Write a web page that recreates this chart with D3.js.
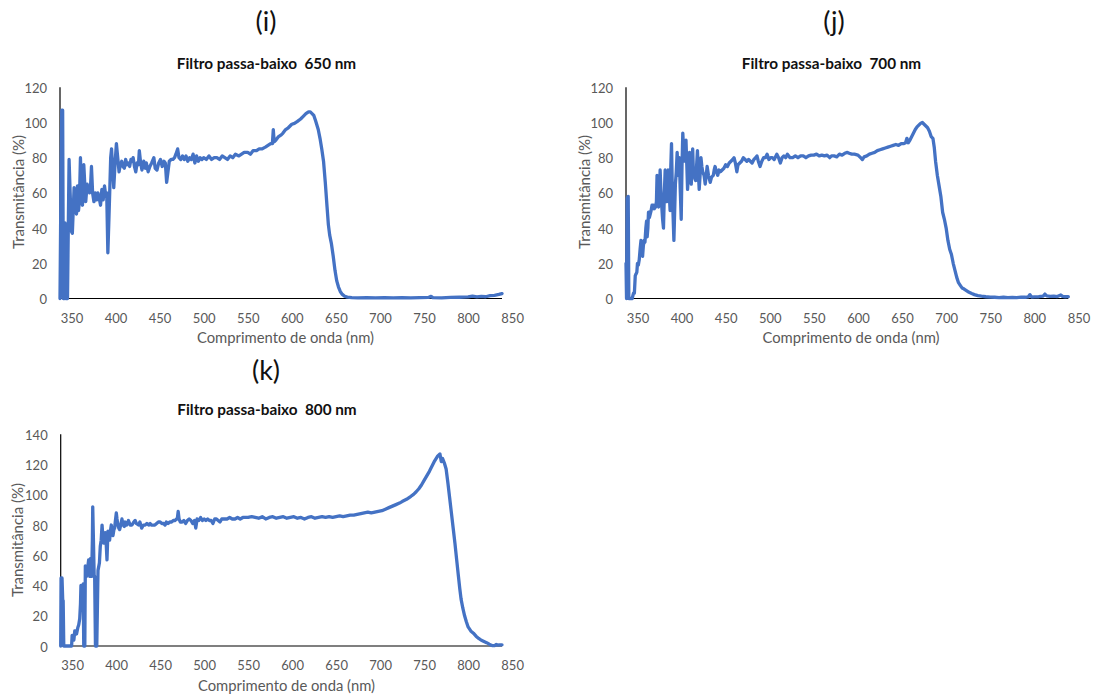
<!DOCTYPE html>
<html>
<head>
<meta charset="utf-8">
<script src="https://cdn.jsdelivr.net/npm/d3@7"></script>
<style>
  html, body { margin: 0; padding: 0; background: #ffffff; }
  svg { display: block; font-family: Lato, "Open Sans", sans-serif; }
</style>
</head>
<body>
<svg id="fig" width="1096" height="697"></svg>
<script>
// Wavelength ticks shared by the three spectra
const xTicks = [350, 400, 450, 500, 550, 600, 650, 700, 750, 800, 850];
const yTicks120 = [0, 20, 40, 60, 80, 100, 120];
const yTicks140 = [0, 20, 40, 60, 80, 100, 120, 140];

const panelLabels = ["(i)", "(j)", "(k)"];
const titles = ["Filtro passa-baixo  650 nm", "Filtro passa-baixo  700 nm", "Filtro passa-baixo  800 nm"];
const xTitle = "Comprimento de onda (nm)";
const yTitle = "Transmitância (%)";

// Low-pass filter 650 nm: wavelength (nm) and transmittance (%)
const wl650 = [337,338,339,340,340.8,342,342.7,343.5,345.5,347.3,348.5,350,351,352,353,354,355.7,356.8,358,359,360.2,361.5,362.5,364,365,366.2,367.8,369,370.5,371.5,372.7,374,375.5,377,378.5,380,381.5,383,384.5,386,387.5,389,390,391.3,392.5,393.5,394.5,395.5,396.5,398,399.5,401,402.5,404,405.5,407,408.5,410,411.5,413,414.5,416,417.5,419,420,421.5,423,424.5,426,427,428.5,430,432,434,435,437,439,441,443.5,445,447,449,451,453,455,456.5,458,459.5,461,463,465,467,468.5,470.5,472,474,476,478,480,482,484,486,488,490,492,494,496,498,500,503,506,509,512,515,518,521,524,527,530,533,536,540,543,546,550,553,556,560,563,566,570,573,576,578,579,580,582,585,588,590,593,596,600,603,606,610,613,616,619,621,623,625,627,630,632,634,636,638,640,641.5,643,645,647,649,651,653,655,657,660,663,668,675,685,695,705,715,725,735,745,755,758,760,770,780,790,800,805,810,815,820,825,830,835,838.5];
const t650 = [0,60,107,107,0,0,43,0,0,79,60,38,37,50,63,55,48,64,50,55,80,58,53,76,66,55,65,63,60,62,75,60,55,60,56,60,57,53,62,56,64,58,60,26,45,62,80,85,76,63,77,88,80,72,76,78,75,74,79,76,77,75,79,78,80,75,72,77,76,84,77,73,78,74,77,72,75,77,80,74,73,77,79,75,78,77,66,72,78,79,79,80,82,85,80,79,81,79,81,78,80,79,82,77,81,78,80,79,80,79,81,79,80,80,79,81,80,79,81,80,82,81,82,83,83,82,84,84,85,85,86,87,88,88,96,89,90,92,93,94,96,97,99,99.5,100.5,102,103.5,105,106,106,105,104,101,96,91,85,78,66,52,42,36,31,24,16,10,6.5,4,2.5,1.3,0.8,0.5,0.4,0.5,0.4,0.5,0.3,0.5,0.4,0.5,0.6,1.2,0.5,0.4,0.6,0.7,0.9,1.3,0.9,1.2,1.0,1.6,1.8,2.3,2.8];

// Low-pass filter 700 nm
const wl700 = [337,337.6,338.3,339.5,340.2,344,345.5,346.5,347.5,348.5,349.3,350,351,352,353,354,355,355.8,356.7,357.6,358.5,359.5,360.3,361,361.8,362.5,363.5,364.5,365.5,366.5,368,369,370.5,371.5,372.2,373.2,374,374.8,375.7,376.5,377.6,378.5,379.5,380.5,381.4,382.3,383.2,384.2,385,386,387,387.8,388.6,389.4,390.2,391.3,392.2,393,394,395,396.2,397.4,398.5,399.6,400.5,401.4,402.3,403.3,404.2,405,406,406.8,408,409,410,411,411.8,412.6,413.4,414.3,415.2,416,417,418,419,420,421,422,423,424,425.5,426.8,428,429,430.5,432.5,434,436,437,438,439.5,441,442.5,444,446,448,450,452,454,456,458,459.5,461,462.7,464,466,468,470,472,474,476,478,480,482,484,485.5,487,489,491,493,495,497,499,501,503,505,507,508,510,512,514,516,518,520,523,526,529,532,535,538,541,544,547,550,553,556,559,562,565,568,570,573,576,579,582,585,588,590,593,596,600,603,605,607,610,613,616,619,622,625,628,631,634,637,640,643,646,649,652,654,655.5,657,659,661,663,665,667,669,671,673,675,677,679,681,683,685,686.5,688,690,692,694,696,698,700,702,704,706,708,710,712,714,716,718,720,723,726,729,732,736,740,745,750,755,760,765,770,775,780,785,790,793,795,797,800,805,810,812,814,818,822,826,830,832,835,838.5];
const t700 = [20,0,57,58,0,0,3,3,13,14,15,20,19,22,28,33,26,24,30,33,32,40,44,35,40,49,46,48,50,53,53,51,52,55,70,60,52,58,73,62,52,45,40,60,73,65,55,70,73,60,50,75,88,65,50,33,50,65,72,83,70,80,62,45,75,94,85,78,85,90,75,62,72,83,72,65,74,85,72,70,68,67,75,84,72,62,70,80,75,72,70,65,70,75,70,66,69,70,73,75,72,70,73,72,73,74,76,75,77,78,79,80,77,72,76,77,78,80,79,78,79,78,77,79,80,81,78,75,78,80,80,82,79,80,80,79,81,82,80,77,80,81,80,82,80,80,81,80,81,81,80,81,81.5,81.5,82,81,81.5,81,81.5,80,81,81,80.5,82,81.5,82.5,83,82.5,82,82,81.5,80,79,80.5,81,82,82.5,83,84,84.5,85,85.5,86,86.5,87,87.5,87,88,88,88.5,91,88.5,90,92,94,96,97.5,98.5,99.5,100,99,98,97,95,92,91,86,78,70,64,58,49,45,40,33,28,25,20,16,12,9,7.5,6,5.5,4.5,3.5,2.8,2.2,1.6,1.3,1.0,0.8,0.7,0.5,0.7,0.5,0.6,0.5,0.8,0.7,0.9,2.2,0.8,0.9,1.0,1.4,2.5,1.5,1.2,1.4,1.1,2.0,1.2,1.0,1.1];

// Low-pass filter 800 nm
const wl800 = [337,337.4,338.5,339.3,339.8,340.5,349.4,350,351,352,353,354,355,356.4,357.5,358.6,359.5,360,361.3,362.5,363.2,364.4,365,366.2,367.7,368.8,370,371,372.2,373,373.4,374.2,375,375.6,376.5,378,379.4,381,382,383,384,385,385.8,386.8,387.7,388.5,389.6,390.7,391.6,392.6,393.5,394.5,395.5,396.4,397.5,398.3,399,400.2,401,402,403,404,405.2,406.6,408,409.3,410.3,412,413,414,416,418,420,421.6,423,425.4,427,429,431,433,435,437,438.6,440,442,444,446,448,450,452,454,455.6,457,459,461,463,465,467,468.5,469.5,470.5,471.5,473,475,477,479,481,483,485,487,489,490.5,492,494,496,498,500,502,504,506,508,510,512,514,516,518,520,523,526,529,532,535,538,541,544,547,550,
  554,558,562,566,570,574,578,582,586,590,594,598,602,606,610,614,618,622,626,630,634,638,642,646,650,654,658,662,666,670,674,678,682,686,690,694,698,702,706,710,714,718,722,725,730,735,738,741,744,747,750,753,756,759,762,765,768,
  769.5,771,773,775,777,779,781,783,785,787,789,790.5,792,794,796,798,800,803,806,809,812,815,818,821,824,826,828,830,832,834,836,838.5];
const t800 = [0,45,45,30,30,0,0,7,5,4,10,9,8,12,14,18,28,40,28,41,0,0,53,46,52,57,46,58,46,70,92,70,47,46,0,0,50,55,66,70,80,72,68,70,75,70,57,76,72,70,76,80,76,73,77,78,82,88,84,80,78,77,80,84,80,79,82,80,81,83,80,80,82,83,81,80,82,78,80,80,81,80,81,80,80,80,81,82,82,81,81,80,82,81,82,82,83,83,84,84,89,84,82,82,83,81,83,84,83,81,83,78,84,83,85,83,84,83,84,83,83,81,84,84,83,82,84,84,84,85,84,84,85,84,85,85,85,
  85.5,85,84.5,85.5,84,85,85.5,84.5,85,85.5,84.5,85,85.5,84.5,85,84,85,85.5,84.5,85,85.5,85,85.5,85,85.5,86,85.5,86,86.5,86.5,87,87.5,88,88.5,88,88.5,89,89.5,90.5,91.5,92.5,93.5,94.5,95.5,97,99,100.3,102,104,106.5,109.5,112.5,115.5,119,122.5,125.3,127,
  122,124,121,117,108,98,88,78,68,57,46,38,31,25,20,16,12.6,10,8.5,6.5,5,3.8,3,2.2,1.2,0.6,0.2,0.3,1.0,0.6,0.8,0.8];

const svg = d3.select("#fig");
const lineColor = "#4472C4";
const textColor = "#595959";

function drawPanel(p) {
  const g = svg.append("g");
  const x = d3.scaleLinear().domain([337, 838.5]).range([p.left, p.right]);
  const y = d3.scaleLinear().domain([0, d3.max(p.yTicks)]).range([p.bottom, p.top]);

  // panel letter and chart title
  g.append("text").attr("x", p.labelX).attr("y", p.labelY)
    .attr("text-anchor", "middle").attr("dominant-baseline", "central")
    .attr("font-size", 27).attr("fill", "#111").text(p.label);
  g.append("text").attr("x", p.titleX).attr("y", p.titleY)
    .attr("text-anchor", "middle").attr("dominant-baseline", "central")
    .attr("font-size", 15.3).attr("font-weight", "bold").attr("fill", "#111")
    .style("white-space", "pre").text(p.title);

  // x axis (labels only, black baseline)
  const xa = g.append("g").attr("transform", `translate(0,${p.bottom})`)
    .call(d3.axisBottom(x).tickValues(xTicks).tickSize(0).tickPadding(0).tickFormat(d3.format("d")));
  xa.select(".domain").remove();
  xa.selectAll("text").attr("y", 19).attr("dy", null).attr("dominant-baseline", "central")
    .attr("font-size", 13).attr("font-family", "Lato, sans-serif").attr("fill", textColor);

  // y axis labels
  const ya = g.append("g").attr("transform", `translate(${p.left},0)`)
    .call(d3.axisLeft(y).tickValues(p.yTicks).tickSize(0).tickPadding(13).tickFormat(d3.format("d")));
  ya.select(".domain").remove();
  ya.selectAll("text").attr("dy", null).attr("dominant-baseline", "central")
    .attr("font-size", 13).attr("font-family", "Lato, sans-serif").attr("fill", textColor);

  // axis lines
  g.append("line").attr("x1", p.left).attr("x2", p.left).attr("y1", p.top).attr("y2", p.bottom)
    .attr("stroke", "#000").attr("stroke-width", 1.2);
  g.append("line").attr("x1", p.left).attr("x2", p.right).attr("y1", p.bottom).attr("y2", p.bottom)
    .attr("stroke", "#000").attr("stroke-width", 1.2);

  // axis titles
  g.append("text").attr("x", p.xTitleX).attr("y", p.bottom + 38.5)
    .attr("text-anchor", "middle").attr("dominant-baseline", "central")
    .attr("font-size", 14.8).attr("fill", textColor).text(xTitle);
  g.append("text").attr("transform", `translate(${p.yTitleX},${p.yTitleY}) rotate(-90)`)
    .attr("text-anchor", "middle").attr("dominant-baseline", "central")
    .attr("font-size", 15).attr("fill", textColor).text(yTitle);

  // transmittance spectrum
  const pts = p.wl.map((w, i) => [w, p.t[i]]);
  g.append("path").datum(pts)
    .attr("d", d3.line().x(d => x(d[0])).y(d => y(d[1])))
    .attr("fill", "none").attr("stroke", lineColor).attr("stroke-width", 3.3)
    .attr("stroke-linejoin", "round").attr("stroke-linecap", "round");
}

drawPanel({ label: panelLabels[0], title: titles[0], wl: wl650, t: t650, yTicks: yTicks120,
  left: 60, right: 502, top: 87.3, bottom: 298.5,
  labelX: 266, labelY: 20, titleX: 266.5, titleY: 63, xTitleX: 285.5, yTitleX: 18, yTitleY: 192 });

drawPanel({ label: panelLabels[1], title: titles[1], wl: wl700, t: t700, yTicks: yTicks120,
  left: 626, right: 1068.3, top: 87.3, bottom: 298.5,
  labelX: 834, labelY: 20, titleX: 831.5, titleY: 63, xTitleX: 851, yTitleX: 584, yTitleY: 192 });

drawPanel({ label: panelLabels[2], title: titles[2], wl: wl800, t: t800, yTicks: yTicks140,
  left: 60.7, right: 502, top: 434.3, bottom: 646,
  labelX: 266, labelY: 369, titleX: 267, titleY: 409.3, xTitleX: 286.5, yTitleX: 16.7, yTitleY: 540 });
</script>
</body>
</html>
